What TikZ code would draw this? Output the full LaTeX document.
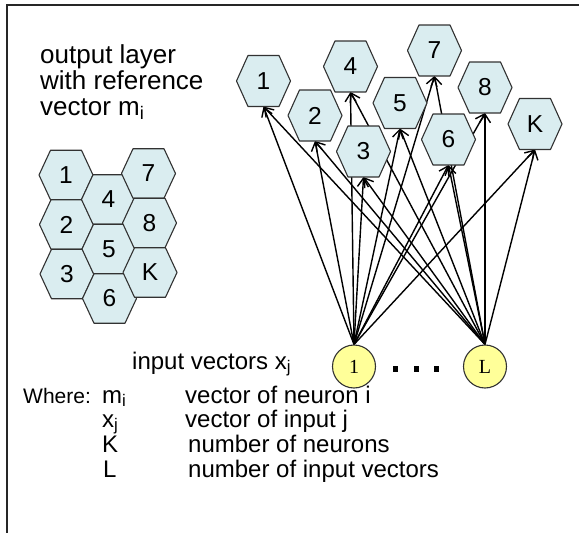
\documentclass[tikz,border=0pt]{standalone}
\usepackage{fontspec}
\setmainfont{Liberation Sans}
\newfontfamily\serifnum{Liberation Serif}
\usetikzlibrary{arrows.meta,calc}
\pgfdeclarelayer{edges}
\pgfdeclarelayer{hexes}
\pgfsetlayers{edges,hexes,main}
\definecolor{hexfill}{RGB}{218,237,240}
\definecolor{hexline}{RGB}{50,50,50}
\definecolor{infill}{RGB}{255,255,153}
\begin{document}
\begin{tikzpicture}[x=1pt,y=-1pt,
  hexL/.style={minimum width=54pt,minimum height=49.5pt,inner sep=0pt,outer sep=0pt,font=\fontsize{24.5}{24.5}\selectfont},
  hexR/.style={minimum width=54pt,minimum height=51pt,inner sep=0pt,outer sep=0pt,font=\fontsize{24.5}{24.5}\selectfont},
  hexshape/.style={fill=hexfill,draw=hexline,line width=1.1pt,line join=round},
  innode/.style={circle,draw=hexline,line width=1.1pt,fill=infill,minimum size=43pt,inner sep=0pt,font=\serifnum\fontsize{20}{20}\selectfont},
  conn/.style={line width=1.4pt,-{Straight Barb[length=8.5pt,width=11pt]}},
  txt/.style={anchor=base west,inner sep=0pt,font=\fontsize{24}{24}\selectfont},
  wtxt/.style={anchor=base west,inner sep=0pt,font=\fontsize{21}{21}\selectfont},
  bigtxt/.style={anchor=base west,inner sep=0pt,font=\fontsize{26}{26}\selectfont},
  dotsq/.style={fill=black,minimum size=5.5pt,inner sep=0pt},
  frame/.style={draw=black!85,line width=2.4pt}
]
\useasboundingbox (0,0) rectangle (579,533);
\draw[frame] (7,533) -- (7,5) -- (579,5);

% top-left label
\node[bigtxt] (t1) at (40,63) {output layer};
\node[bigtxt] (t2) at (40,89) {with reference};
\node[bigtxt] (t3) at (40,115) {vector m\textsubscript{i}};

% left cluster
\node[hexL] (l1) at (66,175) {1};
\node[hexL] (l2) at (66.5,224.5) {2};
\node[hexL] (l3) at (67,274) {3};
\node[hexL] (l4) at (108.5,199.5) {4};
\node[hexL] (l5) at (109,249) {5};
\node[hexL] (l6) at (109.5,298.5) {6};
\node[hexL] (l7) at (148.5,173.5) {7};
\node[hexL] (l8) at (149.5,223) {8};
\node[hexL] (lK) at (150,272.5) {K};

% right hexagons
\node[hexR] (r1) at (263.5,81) {1};
\node[hexR] (r2) at (315,115.5) {2};
\node[hexR] (r3) at (363.5,151.5) {3};
\node[hexR] (r4) at (350.5,66.5) {4};
\node[hexR] (r5) at (400,103) {5};
\node[hexR] (r6) at (448.5,139.5) {6};
\node[hexR] (r7) at (434.5,50.5) {7};
\node[hexR] (r8) at (485,87.5) {8};
\node[hexR] (rK) at (535,124) {K};

% inputs
\node[innode] (i1) at (354,366.5) {1};
\node[innode] (iL) at (485,366.5) {L};
\node[dotsq] (d1) at (395.5,369) {};
\node[dotsq] (d2) at (416.5,369) {};
\node[dotsq] (d3) at (436.5,369) {};
\node[txt] (inlab) at (132,369) {input vectors x\textsubscript{j}};

% legend
\node[wtxt] (w0) at (23,403) {Where:};
\node[txt] (wm) at (102,403) {m\textsubscript{i}};
\node[txt] (wx) at (102,427) {x\textsubscript{j}};
\node[txt] (wK) at (102,452) {K};
\node[txt] (wL) at (103,477) {L};
\node[txt] (dm) at (185,403) {vector of neuron i};
\node[txt] (dx) at (185,427) {vector of input j};
\node[txt] (dK) at (188,452) {number of neurons};
\node[txt] (dL) at (188,477) {number of input vectors};

\begin{pgfonlayer}{hexes}
\foreach \n in {l1,l2,l3,l4,l5,l6,l7,l8,lK,r1,r2,r3,r4,r5,r6,r7,r8,rK}
  \filldraw[hexshape] (\n.west) -- ($(\n.north)+(-15.5,0)$) -- ($(\n.north)+(15.5,0)$) -- (\n.east) -- ($(\n.south)+(15.5,0)$) -- ($(\n.south)+(-15.5,0)$) -- cycle;
\end{pgfonlayer}

\begin{pgfonlayer}{edges}
\foreach \n in {r1,r2,r3,r4,r5,r6,r7,r8,rK} {
  \draw[conn] (i1.north) -- (\n.south);
  \draw[conn] (iL.north) -- (\n.south);
}
\end{pgfonlayer}
\end{tikzpicture}
\end{document}
